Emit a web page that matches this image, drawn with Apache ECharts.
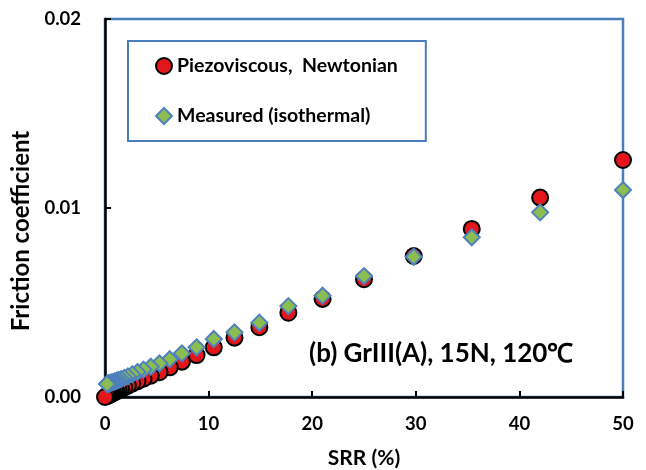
<!DOCTYPE html>
<html>
<head>
<meta charset="utf-8">
<script src="https://cdn.jsdelivr.net/npm/echarts@6/dist/echarts.min.js"></script>
<style>
  html, body { margin: 0; padding: 0; background: #fff; }
  #main { width: 646px; height: 470px; }
</style>
</head>
<body>
<div id="main"></div>
<script>
// SRR (%) values
const srr = [50, 42.0, 35.4, 29.8, 25.0, 21.0, 17.7, 14.9, 12.5, 10.5, 8.84, 7.43, 6.25, 5.26, 4.42, 3.72, 3.13, 2.63, 2.21, 1.86, 1.56, 1.31, 1.10, 0.93, 0.78, 0.66, 0.55, 0.46, 0.39, 0.33, 0.28, 0.23, 0.2]
// Piezoviscous, Newtonian
const piezo = [0.01254, 0.01055, 0.00889, 0.00746, 0.00623, 0.00519, 0.00446, 0.00369, 0.00314, 0.00263, 0.00222, 0.00187, 0.00157, 0.00131, 0.00113, 0.00097, 0.00083, 0.00071, 0.0006, 0.00051, 0.00043, 0.00036, 0.0003, 0.00026, 0.00022, 0.00018, 0.00015, 0.00013, 0.00011, 0.00009, 0.00008, 0.00007, 0.00006]
// Measured (isothermal)
const measured = [0.01095, 0.00977, 0.00845, 0.00742, 0.0064, 0.00536, 0.00481, 0.00393, 0.00342, 0.00307, 0.00263, 0.00231, 0.002, 0.00178, 0.0016, 0.00145, 0.00132, 0.0012, 0.00109, 0.00101, 0.00095, 0.0009, 0.00086, 0.00082, 0.00079, 0.00077, 0.00075, 0.00073, 0.00072, 0.00071, 0.0007, 0.0007, 0.00069]
const yTicks = ['0.00', '0.01', '0.02']
const names = ['Piezoviscous,  Newtonian', 'Measured (isothermal)']

const FONT = 'Lato'
let chart = echarts.init(document.getElementById('main'))

let pair = (ys) => srr.map((x, i) => [x, ys[i]])

let option = {
  animation: false,
  grid: {
    left: 105, top: 19, right: 23, bottom: 73,
    outerBoundsMode: 'none',
    show: true,
    borderColor: '#4a7ebb',
    borderWidth: 2.5
  },
  legend: {
    orient: 'vertical',
    left: 128,
    top: 41,
    padding: [15, 28, 15, 27],
    itemGap: 30,
    itemWidth: 16,
    itemHeight: 16,
    borderColor: '#4a7ebb',
    borderWidth: 2,
    textStyle: { fontFamily: FONT, fontWeight: 'bold', fontSize: 19.5, color: '#000' },
    data: names
  },
  xAxis: {
    type: 'value',
    min: 0,
    max: 50,
    interval: 10,
    name: 'SRR (%)',
    nameLocation: 'middle',
    nameGap: 51,
    nameTextStyle: { fontFamily: FONT, fontWeight: 'bold', fontSize: 21, color: '#000' },
    axisLine: { lineStyle: { color: '#000', width: 2.5 } },
    axisTick: { inside: true, length: 6, lineStyle: { color: '#000', width: 2 } },
    axisLabel: { margin: 18, fontFamily: FONT, fontWeight: 'bold', fontSize: 18.5, color: '#000' },
    splitLine: { show: false }
  },
  yAxis: {
    type: 'value',
    min: 0,
    max: 0.02,
    interval: 0.01,
    name: 'Friction coefficient',
    nameLocation: 'middle',
    nameGap: 68,
    nameTextStyle: { fontFamily: FONT, fontWeight: 'bold', fontSize: 24, color: '#000', padding: [0, 46, 0, 0] },
    axisLine: { show: true, lineStyle: { color: '#000', width: 2.5 } },
    axisTick: { show: true, inside: true, length: 6, lineStyle: { color: '#000', width: 2 } },
    axisLabel: {
      margin: 24,
      fontFamily: FONT, fontWeight: 'bold', fontSize: 18.5, color: '#000',
      formatter: (v) => yTicks[Math.round(v / 0.01)]
    },
    splitLine: { show: false }
  },
  graphic: [{
    type: 'text',
    left: 309,
    top: 341,
    style: {
      text: '(b) GrIII(A), 15N, 120℃',
      fontFamily: FONT,
      fontWeight: 'bold',
      fontSize: 26,
      fill: '#000'
    }
  }],
  series: [
    {
      name: names[0],
      type: 'scatter',
      symbol: 'circle',
      symbolSize: 16,
      itemStyle: { color: '#e3161c', borderColor: '#000', borderWidth: 2, opacity: 1 },
      data: pair(piezo).concat([[0, 0]]),
      z: 2
    },
    {
      name: names[1],
      type: 'scatter',
      symbol: 'diamond',
      symbolSize: [16, 16],
      itemStyle: { color: '#8cbd50', borderColor: '#4f81bd', borderWidth: 2, opacity: 1 },
      data: pair(measured),
      z: 3
    }
  ]
}
chart.setOption(option)
</script>
</body>
</html>
